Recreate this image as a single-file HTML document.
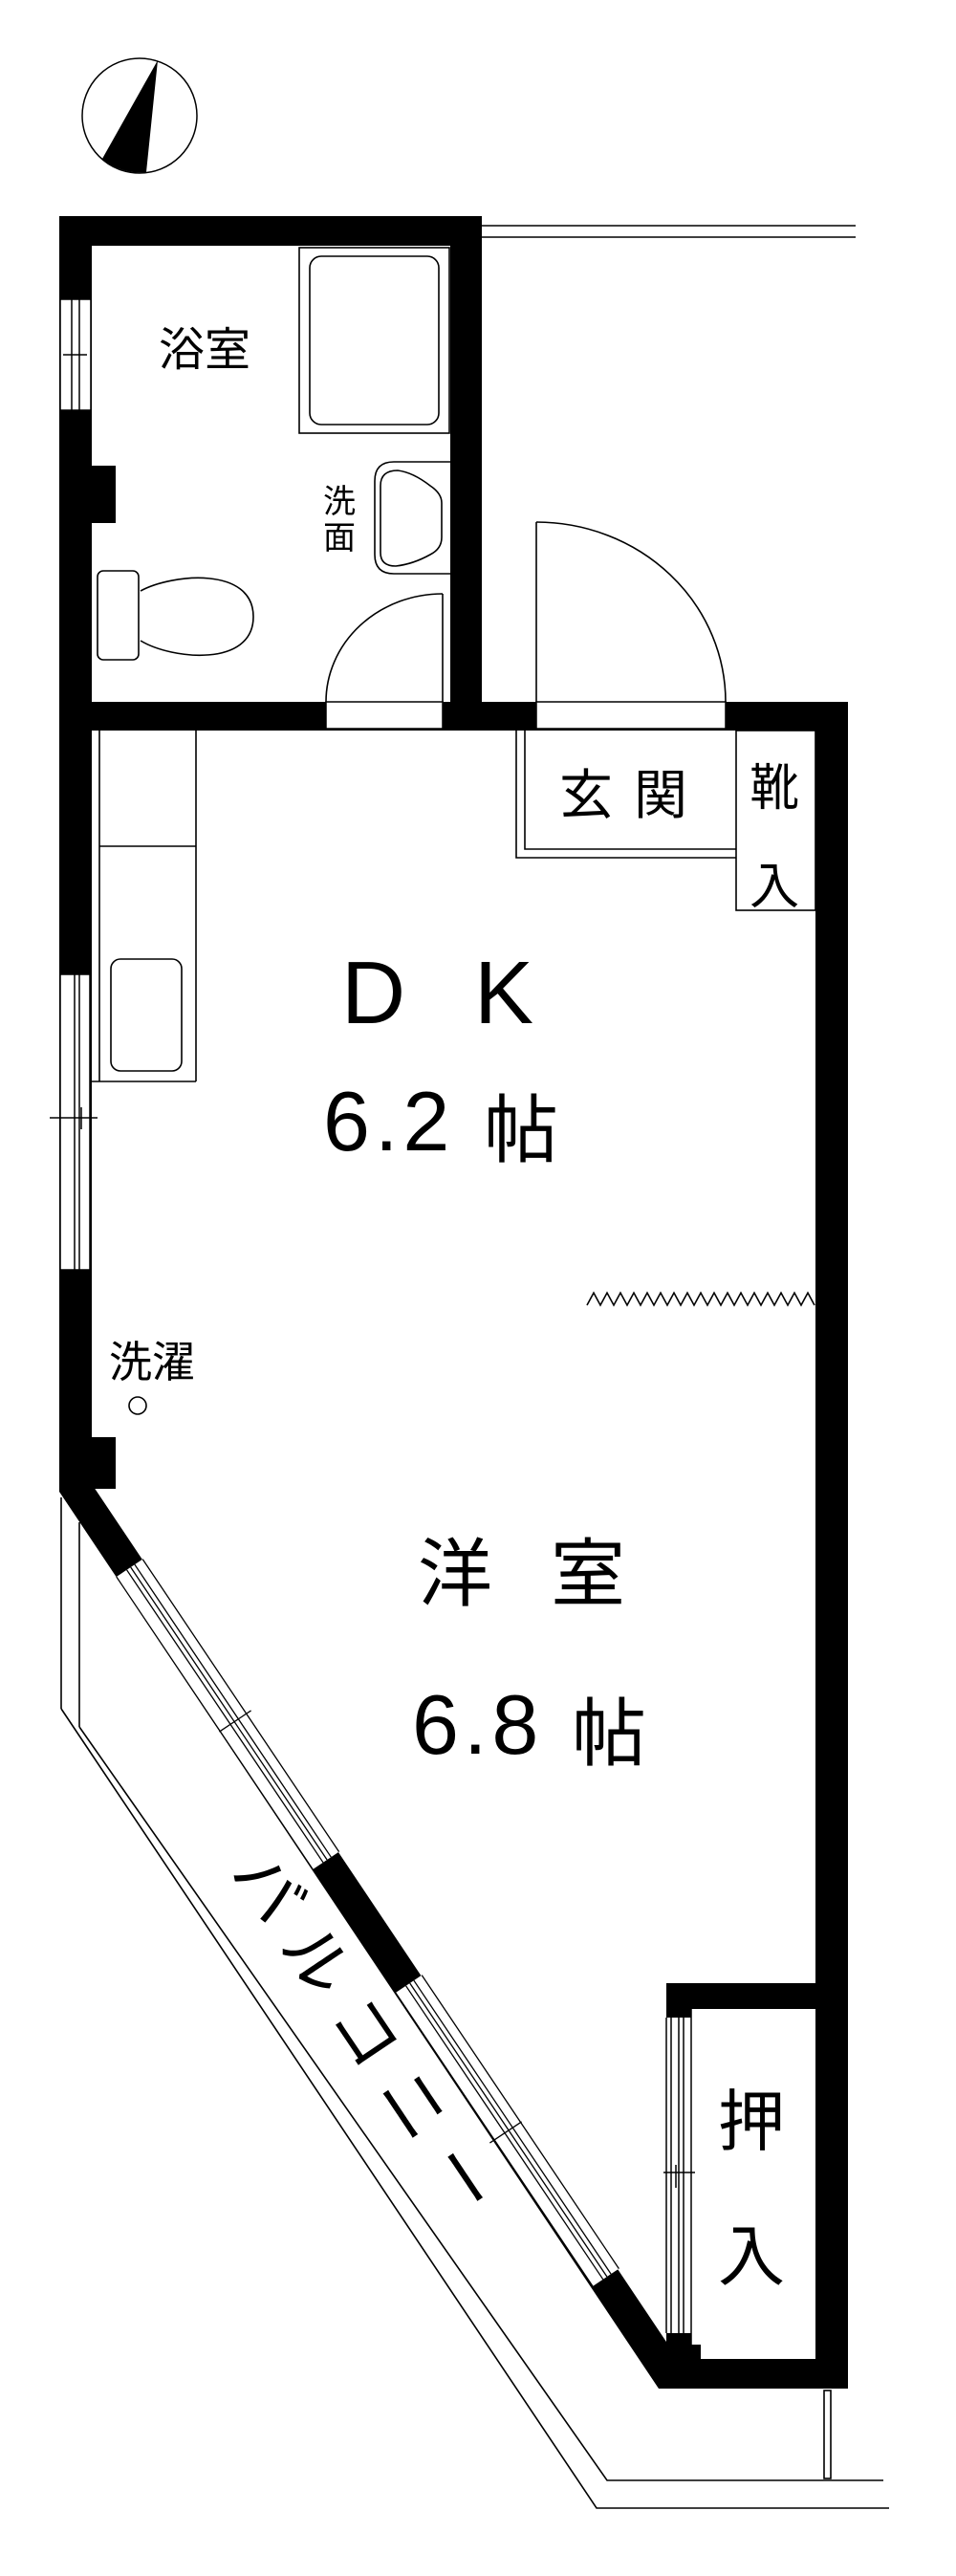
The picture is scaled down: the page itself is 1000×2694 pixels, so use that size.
<!DOCTYPE html>
<html><head><meta charset="utf-8"><style>
html,body{margin:0;padding:0;background:#fff;}
svg{display:block;}
text{font-family:"Liberation Sans","Noto Sans CJK JP",sans-serif;fill:#000;}
.j{font-family:"Noto Sans CJK JP","Liberation Sans",sans-serif;}
</style></head><body>
<svg width="1000" height="2694" viewBox="0 0 1000 2694" xmlns="http://www.w3.org/2000/svg">
<g fill="none" stroke="#000" stroke-width="1.5">
<!-- compass -->
<circle cx="146" cy="121" r="60"/>
</g>
<path d="M165 63 L107 166 A60 60 0 0 0 153 180 Z" fill="#000"/>

<!-- walls -->
<g fill="#000">
<rect x="62" y="226" width="442" height="31"/>
<rect x="62" y="226" width="34" height="1334"/>
<rect x="471" y="226" width="33" height="538"/>
<rect x="62" y="734" width="825" height="30"/>
<rect x="853" y="734" width="34" height="1764"/>
<rect x="689" y="2467" width="198" height="31"/>
<rect x="96" y="487" width="25" height="60"/>
<rect x="96" y="1503" width="25" height="54"/>
<rect x="697" y="2074" width="156" height="27"/>
<rect x="697" y="2101" width="26" height="9"/>
<rect x="697" y="2440" width="26" height="27"/>
<rect x="697" y="2452" width="36" height="15"/>
<polygon points="62,1545 96,1545 96,1552 709,2467 709,2498 689,2498 62,1560"/>
</g>

<!-- door openings in mid wall -->
<g fill="#fff" stroke="#000" stroke-width="1.5">
<rect x="341" y="734" width="122" height="28"/>
<rect x="561" y="734" width="198" height="28"/>
</g>

<!-- left wall windows -->
<g fill="#fff" stroke="#000" stroke-width="1.5">
<rect x="63" y="313" width="32" height="116"/>
<rect x="63" y="1019" width="31" height="309"/>
</g>
<g stroke="#000" stroke-width="1.5">
<line x1="75" y1="313" x2="75" y2="429"/><line x1="83" y1="313" x2="83" y2="429"/>
<line x1="66" y1="371" x2="91" y2="371"/>
<line x1="78" y1="1019" x2="78" y2="1328"/><line x1="83" y1="1019" x2="83" y2="1328"/>
<line x1="52" y1="1169" x2="102" y2="1169"/><line x1="85" y1="1158" x2="85" y2="1181"/>
</g>

<!-- diagonal windows -->
<g fill="#fff" stroke="none">
<polygon points="121.8,1649 327.2,1955 354.6,1936.6 149.2,1630.6"/>
<polygon points="413.8,2084 620,2391 647.4,2372.6 441.2,2065.6"/>
</g>
<g stroke="#000" stroke-width="1.3">
<line x1="121.8" y1="1649" x2="327.2" y2="1955"/>
<line x1="132.6" y1="1641.8" x2="338" y2="1947.8"/>
<line x1="136.7" y1="1639" x2="342.1" y2="1945"/>
<line x1="140.9" y1="1636.2" x2="346.3" y2="1942.2"/>
<line x1="149.2" y1="1630.6" x2="354.6" y2="1936.6"/>
<line x1="413.8" y1="2084" x2="620" y2="2391"/>
<line x1="424.6" y1="2076.8" x2="630.8" y2="2383.8"/>
<line x1="428.7" y1="2074" x2="634.9" y2="2381"/>
<line x1="432.9" y1="2071.2" x2="639.1" y2="2378.2"/>
<line x1="441.2" y1="2065.6" x2="647.4" y2="2372.6"/>
<line x1="229.4" y1="1811.1" x2="262.6" y2="1788.9"/>
<line x1="512.4" y1="2241.1" x2="545.6" y2="2218.9"/>
</g>

<!-- closet sliding doors -->
<g stroke="#000" stroke-width="1.5" fill="none">
<line x1="697" y1="2110" x2="697" y2="2440"/>
<line x1="702" y1="2110" x2="702" y2="2440"/>
<line x1="710" y1="2110" x2="710" y2="2440"/>
<line x1="715" y1="2101" x2="715" y2="2440"/>
<line x1="723" y1="2101" x2="723" y2="2452"/>
<line x1="694" y1="2272" x2="727" y2="2272"/>
<line x1="707" y1="2264" x2="707" y2="2288"/>
</g>

<!-- fixtures -->
<g fill="none" stroke="#000" stroke-width="1.6">
<line x1="504" y1="236" x2="895" y2="236"/>
<line x1="504" y1="248" x2="895" y2="248"/>
<rect x="313" y="259" width="157" height="194"/>
<rect x="324" y="268" width="135" height="176" rx="12"/>
<path d="M471 483 L412 483 Q392 483 392 503 L392 580 Q392 600 412 600 L471 600"/>
<path d="M416 492 Q398 492 398 508 L398 578 Q398 592 414 592 Q432 590 450 580 Q462 574 462 562 L462 526 Q462 516 450 508 Q432 494 416 492 Z"/>
<rect x="102" y="597" width="43" height="93" rx="6"/>
<path d="M147 618 C180 600 265 592 265 645 C265 698 180 690 147 670"/>
<line x1="463" y1="621" x2="463" y2="734"/>
<path d="M463 621 A122 113 0 0 0 341 734"/>
<line x1="561" y1="546" x2="561" y2="734"/>
<path d="M561 546 A198 188 0 0 1 759 734"/>
<!-- genkan -->
<polyline points="540,764 540,897 770,897"/>
<polyline points="549,764 549,888 770,888"/>
<rect x="770" y="764" width="83" height="188"/>
<!-- kitchen -->
<line x1="104" y1="764" x2="104" y2="1131"/>
<line x1="205" y1="764" x2="205" y2="1131"/>
<line x1="104" y1="885" x2="205" y2="885"/>
<line x1="96" y1="1131" x2="205" y2="1131"/>
<rect x="116" y="1003" width="74" height="117" rx="10"/>
<circle cx="144" cy="1470" r="9"/>
<!-- zigzag -->
<polyline points="614,1365 621,1352 628,1365 635,1352 642,1365 649,1352 656,1365 663,1352 670,1365 677,1352 684,1365 691,1352 698,1365 705,1352 712,1365 719,1352 726,1365 733,1352 740,1365 747,1352 754,1365 761,1352 768,1365 775,1352 782,1365 789,1352 796,1365 803,1352 810,1365 817,1352 824,1365 831,1352 838,1365 845,1352 852,1365"/>
<!-- balcony -->
<line x1="64" y1="1566" x2="64" y2="1787"/>
<line x1="83" y1="1592" x2="83" y2="1806"/>
<polyline points="64,1787 624,2623 930,2623"/>
<polyline points="83,1806 635,2594 924,2594"/>
<rect x="862" y="2500" width="7" height="92"/>
</g>

<!-- labels -->
<text class="j" x="166" y="382" font-size="48">浴室</text>
<text class="j" x="338" y="536" font-size="34">洗</text>
<text class="j" x="338" y="574" font-size="34">面</text>
<text class="j" x="585" y="851" font-size="56" letter-spacing="22">玄関</text>
<text class="j" x="784" y="842" font-size="52">靴</text>
<text class="j" x="784" y="945" font-size="52">入</text>
<text x="357" y="1070" font-size="93">D</text>
<text x="496" y="1070" font-size="93">K</text>
<text x="338" y="1203" font-size="88" letter-spacing="5">6.2</text>
<text class="j" x="506" y="1209" font-size="78">帖</text>
<text class="j" x="114" y="1440" font-size="45">洗濯</text>
<text class="j" x="437" y="1673" font-size="78">洋</text>
<text class="j" x="576" y="1673" font-size="78">室</text>
<text x="431" y="1834" font-size="88" letter-spacing="5">6.8</text>
<text class="j" x="598" y="1840" font-size="78">帖</text>
<text class="j" x="751" y="2243" font-size="70">押</text>
<text class="j" x="751" y="2384" font-size="70">入</text>
<g transform="translate(389,2135) rotate(56.1)">
<text class="j" x="0" y="25" font-size="70" letter-spacing="22" text-anchor="middle">バルコニー</text>
</g>
</svg>
</body></html>
